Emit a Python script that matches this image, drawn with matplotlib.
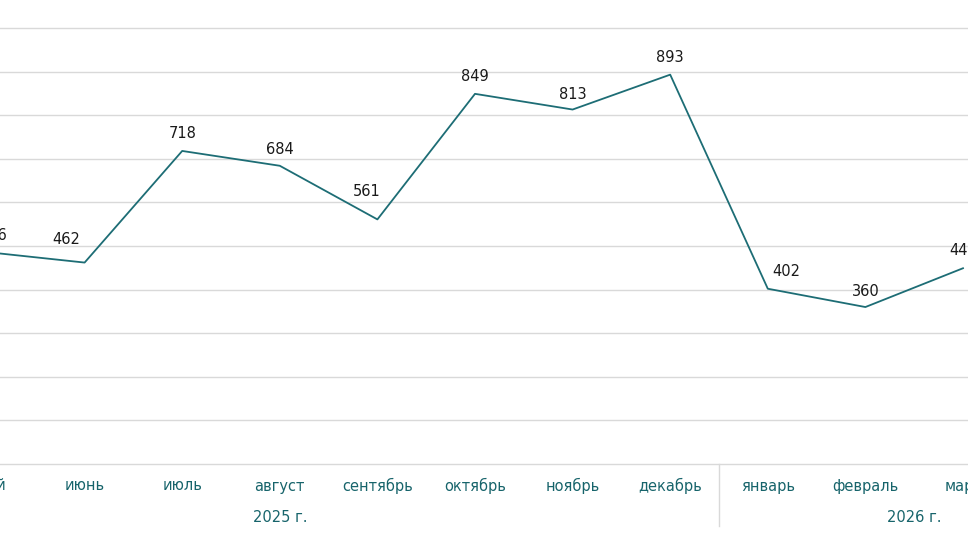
import matplotlib.pyplot as plt
from matplotlib.transforms import blended_transform_factory

# data (May 2025 .. March 2026)
months = ["май", "июнь", "июль", "август", "сентябрь", "октябрь", "ноябрь",
          "декабрь", "январь", "февраль", "март"]
values = [486, 462, 718, 684, 561, 849, 813, 893, 402, 360, 449]
years = ["2025 г.", "2026 г."]
year_pos = [3.0, 9.5]
year_split = 7.5

# label nudges in pixels (dx, dy) so labels sit like in the source
label_off = [(6, 17), (-18, 23), (0, 17), (0, 16), (-11, 28), (0, 17),
             (0, 15), (0, 17), (19, 17), (0, 16), (0, 18)]
month_dx = [4, 0, 0, 0, 0, 0, 0, 0, 0, 0, 0]

LINE = "#1d6d75"
TEXT_TEAL = "#17646b"
GRID = "#d9d9d9"

plt.rcParams['font.family'] = ['DejaVu Sans']

fig = plt.figure(figsize=(9.68, 5.45), dpi=100)
ax = fig.add_axes([0, 81 / 545, 1, 464 / 545])

x = list(range(len(months)))
ax.plot(x, values, color=LINE, linewidth=1.3, clip_on=False, zorder=3)

for xi, v, (dx, dy) in zip(x, values, label_off):
    ax.annotate(str(v), (xi, v), xytext=(dx, dy), textcoords="offset pixels",
                ha="center", va="center", fontsize=10.5, color="#1a1a1a",
                annotation_clip=False)

ax.set_xlim(13 / 97.6, 981 / 97.6)
ax.set_ylim(0, 1000 * 464 / 436)
ax.set_yticks(range(100, 1001, 100))
ax.yaxis.grid(True, color=GRID, linewidth=1)
ax.set_axisbelow(True)
ax.tick_params(left=False, labelleft=False, bottom=False, labelbottom=False)
for s in ["top", "right", "left"]:
    ax.spines[s].set_visible(False)
ax.spines["bottom"].set_color(GRID)
ax.spines["bottom"].set_linewidth(1)

trans = blended_transform_factory(ax.transData, fig.transFigure)
for xi, m, mdx in zip(x, months, month_dx):
    fig.text(xi + mdx / 97.6, 1 - 486 / 545, m, transform=trans, ha="center",
             va="center", fontsize=10.5, color=TEXT_TEAL)
for p, y in zip(year_pos, years):
    fig.text(p, 1 - 518 / 545, y, transform=trans, ha="center", va="center",
             fontsize=10.5, color=TEXT_TEAL)
ax.plot([year_split, year_split], [1 - 464 / 545, 1 - 526 / 545], transform=trans,
        color=GRID, linewidth=1, clip_on=False)

fig.savefig("out.png", dpi=100, facecolor="white")
